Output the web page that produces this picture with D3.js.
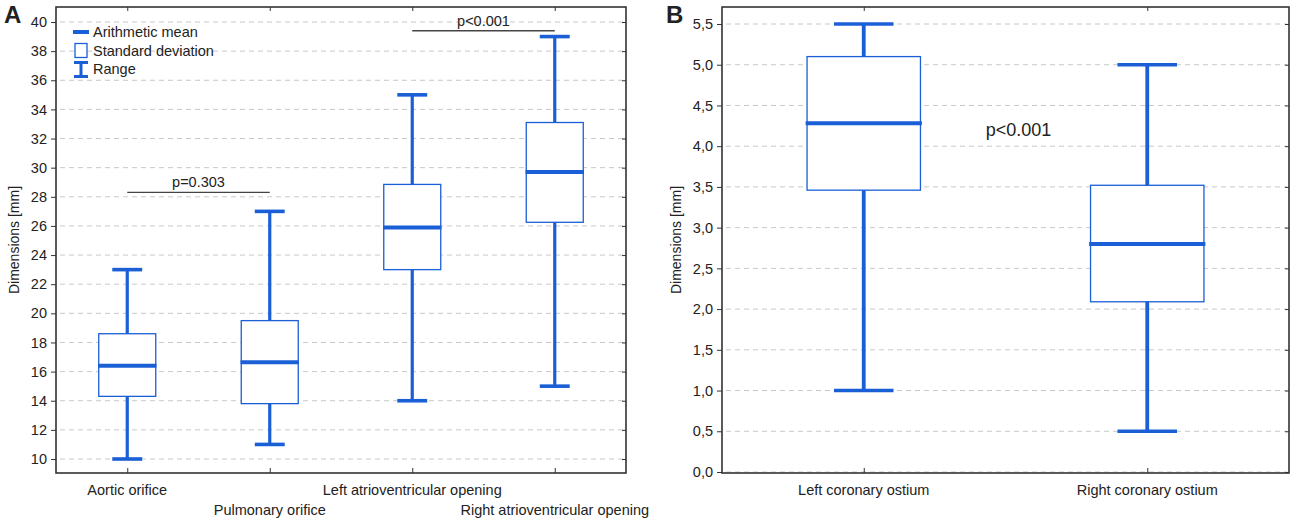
<!DOCTYPE html>
<html>
<head>
<meta charset="utf-8">
<script src="https://cdn.jsdelivr.net/npm/d3@7"></script>
<style>
  body { margin: 0; background: #fff; }
  svg text { font-family: "Liberation Sans", Arial, sans-serif; fill: #222; }
</style>
</head>
<body>
<svg id="chart" width="1294" height="520"></svg>
<script>

/* Panel A data: cardiac openings */
var catsA = ["Aortic orifice", "Pulmonary orifice", "Left atrioventricular opening", "Right atrioventricular opening"];
var meanA = [16.4, 16.65, 25.9, 29.7];
var sdLowA = [14.3, 13.8, 23.0, 26.25];
var sdHighA = [18.6, 19.5, 28.85, 33.1];
var minA = [10, 11, 14, 15];
var maxA = [23, 27, 35, 39];
var ticksA = [10, 12, 14, 16, 18, 20, 22, 24, 26, 28, 30, 32, 34, 36, 38, 40];
var pLinesA = [
  {from: 0, to: 1, value: 28.3, label: "p=0.303"},
  {from: 2, to: 3, value: 39.4, label: "p<0.001"}
];

/* Panel B data: coronary ostia */
var catsB = ["Left coronary ostium", "Right coronary ostium"];
var meanB = [4.28, 2.8];
var sdLowB = [3.46, 2.09];
var sdHighB = [5.1, 3.52];
var minB = [1.0, 0.5];
var maxB = [5.5, 5.0];
var ticksB = [0, 0.5, 1, 1.5, 2, 2.5, 3, 3.5, 4, 4.5, 5, 5.5];
var pTextB = {value: 4.2, label: "p<0.001"};

var legendItems = ["Arithmetic mean", "Standard deviation", "Range"];

var blue = "#1a5fd6";
var svg = d3.select("#chart");

var commaFmt = function (d) { return d3.format(".1f")(d).replace(".", ","); };

// draws one framed box-and-whisker panel, returns the scales
function drawPanel(p) {
  var g = svg.append("g");

  var x = d3.scalePoint()
    .domain(d3.range(p.cats.length))
    .range([p.left, p.right])
    .padding(0.5);
  var band = x.step();

  var y = d3.scaleLinear()
    .domain([p.ticks[0], p.ticks[p.ticks.length - 1]])
    .range(p.yRange);

  /* dashed grid */
  g.selectAll(".grid").data(p.ticks).enter().append("line")
    .attr("x1", p.left + 4).attr("x2", p.right - 2)
    .attr("y1", function (d) { return y(d); })
    .attr("y2", function (d) { return y(d); })
    .attr("stroke", "#c8c8c8")
    .attr("stroke-width", 1)
    .attr("stroke-dasharray", "5,4");

  /* whiskers */
  g.selectAll(".whisk").data(p.cats).enter().append("line")
    .attr("x1", function (d, i) { return x(i); })
    .attr("x2", function (d, i) { return x(i); })
    .attr("y1", function (d, i) { return y(p.min[i]); })
    .attr("y2", function (d, i) { return y(p.max[i]); })
    .attr("stroke", blue).attr("stroke-width", p.whiskW);

  ["min", "max"].forEach(function (k) {
    g.selectAll(".cap" + k).data(p.cats).enter().append("line")
      .attr("x1", function (d, i) { return x(i) - band * 0.105; })
      .attr("x2", function (d, i) { return x(i) + band * 0.105; })
      .attr("y1", function (d, i) { return y(p[k][i]); })
      .attr("y2", function (d, i) { return y(p[k][i]); })
      .attr("stroke", blue).attr("stroke-width", 3.6);
  });

  /* standard deviation boxes */
  g.selectAll(".box").data(p.cats).enter().append("rect")
    .attr("x", function (d, i) { return x(i) - band * 0.2; })
    .attr("width", band * 0.4)
    .attr("y", function (d, i) { return y(p.sdHigh[i]); })
    .attr("height", function (d, i) { return y(p.sdLow[i]) - y(p.sdHigh[i]); })
    .attr("fill", "#fff")
    .attr("stroke", blue).attr("stroke-width", 1.3);

  /* means */
  g.selectAll(".mean").data(p.cats).enter().append("line")
    .attr("x1", function (d, i) { return x(i) - band * 0.205; })
    .attr("x2", function (d, i) { return x(i) + band * 0.205; })
    .attr("y1", function (d, i) { return y(p.mean[i]); })
    .attr("y2", function (d, i) { return y(p.mean[i]); })
    .attr("stroke", blue).attr("stroke-width", 4);

  /* axes */
  var left = g.append("g")
    .attr("transform", "translate(" + p.left + ",0)")
    .call(d3.axisLeft(y).tickValues(p.ticks).tickSize(5).tickPadding(4).tickFormat(p.fmt));
  left.select(".domain").remove();
  left.selectAll("text").style("font-size", "14.5px").attr("fill", "#222");
  left.selectAll("line").attr("stroke", "#333");

  var right = g.append("g")
    .attr("transform", "translate(" + p.right + ",0)")
    .call(d3.axisLeft(y).tickValues(p.ticks).tickSize(4).tickFormat(""));
  right.select(".domain").remove();
  right.selectAll("line").attr("stroke", "#333");

  var bottom = g.append("g")
    .attr("transform", "translate(0," + p.bottom + ")")
    .call(d3.axisTop(x).tickSize(5).tickFormat(""));
  bottom.select(".domain").remove();
  bottom.selectAll("line").attr("stroke", "#333");

  var top = g.append("g")
    .attr("transform", "translate(0," + p.top + ")")
    .call(d3.axisBottom(x).tickSize(4).tickFormat(""));
  top.select(".domain").remove();
  top.selectAll("line").attr("stroke", "#333");

  /* category labels, staggered into two rows when crowded */
  g.selectAll(".cat").data(p.cats).enter().append("text")
    .attr("x", function (d, i) { return x(i); })
    .attr("y", function (d, i) { return p.bottom + 22 + (p.stagger ? (i % 2) * 20 : 0); })
    .attr("text-anchor", "middle")
    .style("font-size", "14.5px")
    .text(function (d) { return d; });

  /* frame */
  g.append("rect")
    .attr("x", p.left).attr("y", p.top)
    .attr("width", p.right - p.left).attr("height", p.bottom - p.top)
    .attr("fill", "none").attr("stroke", "#333").attr("stroke-width", 1.6);

  /* y title */
  g.append("text")
    .attr("transform", "translate(" + (p.left - 37 - p.titleShift) + "," + ((p.top + p.bottom) / 2) + ") rotate(-90)")
    .attr("text-anchor", "middle")
    .style("font-size", "14px")
    .text("Dimensions [mm]");

  /* panel letter */
  g.append("text")
    .attr("x", p.left - 52 - p.titleShift).attr("y", 23)
    .style("font-size", "24px").style("font-weight", "bold")
    .attr("fill", "#000")
    .text(p.letter);

  return {g: g, x: x, y: y};
}

var A = drawPanel({
  cats: catsA, mean: meanA, sdLow: sdLowA, sdHigh: sdHighA, min: minA, max: maxA,
  ticks: ticksA, fmt: d3.format("d"), yRange: [459, 22],
  left: 56, right: 626, top: 7, bottom: 473, stagger: true, whiskW: 3.2,
  letter: "A", titleShift: 0
});

var B = drawPanel({
  cats: catsB, mean: meanB, sdLow: sdLowB, sdHigh: sdHighB, min: minB, max: maxB,
  ticks: ticksB, fmt: commaFmt, yRange: [472, 24],
  left: 722, right: 1289, top: 7, bottom: 473, stagger: false, whiskW: 3.8,
  letter: "B", titleShift: 4
});

/* significance bars in panel A */
pLinesA.forEach(function (d) {
  A.g.append("line")
    .attr("x1", A.x(d.from)).attr("x2", A.x(d.to))
    .attr("y1", A.y(d.value)).attr("y2", A.y(d.value))
    .attr("stroke", "#444").attr("stroke-width", 1.3);
  A.g.append("text")
    .attr("x", (A.x(d.from) + A.x(d.to)) / 2)
    .attr("y", A.y(d.value) - 5)
    .attr("text-anchor", "middle")
    .style("font-size", "14.5px")
    .text(d.label);
});

/* p value in panel B, just right of the middle */
B.g.append("text")
  .attr("x", (B.x(0) + B.x(1)) / 2 + 13)
  .attr("y", B.y(pTextB.value) + 6)
  .attr("text-anchor", "middle")
  .style("font-size", "18px")
  .text(pTextB.label);

/* legend in panel A */
var leg = A.g.append("g").attr("transform", "translate(73,32)");
var rowH = 18.5;
leg.append("line")
  .attr("x1", 0).attr("x2", 16).attr("y1", 0).attr("y2", 0)
  .attr("stroke", blue).attr("stroke-width", 4);
leg.append("rect")
  .attr("x", 2).attr("y", rowH - 7).attr("width", 12).attr("height", 14)
  .attr("fill", "#fff").attr("stroke", blue).attr("stroke-width", 1.3);
leg.append("line")
  .attr("x1", 8).attr("x2", 8).attr("y1", 2 * rowH - 6.5).attr("y2", 2 * rowH + 7.5)
  .attr("stroke", blue).attr("stroke-width", 3);
[-6.5, 7.5].forEach(function (o) {
  leg.append("line")
    .attr("x1", 1).attr("x2", 15).attr("y1", 2 * rowH + o).attr("y2", 2 * rowH + o)
    .attr("stroke", blue).attr("stroke-width", 3);
});
leg.selectAll(".lt").data(legendItems).enter().append("text")
  .attr("x", 20)
  .attr("y", function (d, i) { return i * rowH + 5; })
  .style("font-size", "14.5px")
  .text(function (d) { return d; });

</script>
</body>
</html>
